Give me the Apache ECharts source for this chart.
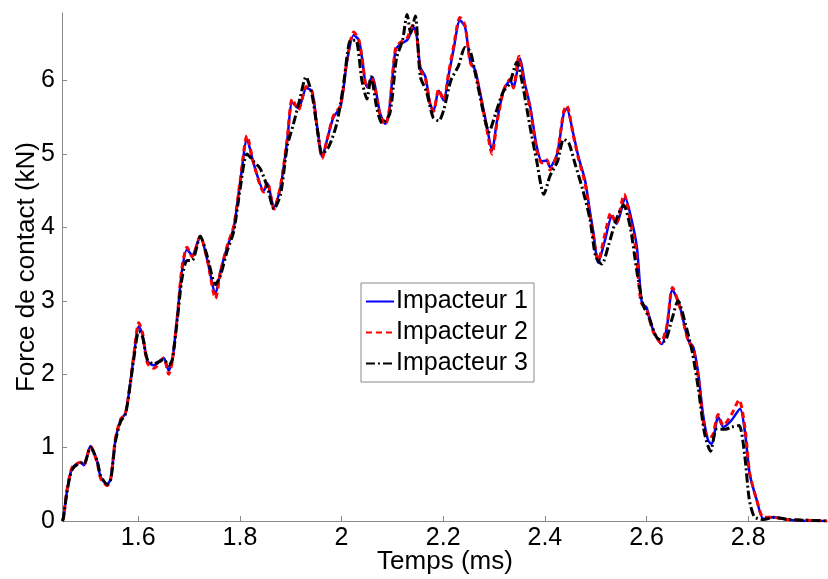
<!DOCTYPE html>
<html>
<head>
<meta charset="utf-8">
<script src="https://cdn.jsdelivr.net/npm/echarts@6/dist/echarts.min.js"></script>
<style>
html,body{margin:0;padding:0;background:#fff;}
#chart{width:828px;height:579px;}
</style>
</head>
<body>
<div id="chart"></div>
<script>
// Force de contact (kN) vs Temps (ms)
var seriesNames = ['Impacteur 1', 'Impacteur 2', 'Impacteur 3'];
var xTicks = [1.6, 1.8, 2.0, 2.2, 2.4, 2.6, 2.8];
var yTicks = [0, 1, 2, 3, 4, 5, 6];
var xMin = 1.45, xMax = 2.957, yMin = 0, yMax = 6.92;

var impacteur1 = [
[1.451,0],[1.453,0.05],[1.460,0.42],[1.470,0.72],[1.487,0.80],[1.493,0.76],[1.506,1.02],[1.519,0.82],[1.526,0.60],[1.539,0.50],
[1.546,0.58],[1.555,1.10],[1.565,1.37],[1.575,1.47],[1.585,1.91],[1.591,2.23],[1.601,2.65],[1.608,2.55],[1.618,2.18],[1.631,2.12],
[1.650,2.22],[1.660,2.05],[1.667,2.19],[1.677,2.80],[1.686,3.41],[1.696,3.70],[1.706,3.62],[1.722,3.88],[1.736,3.55],[1.752,3.10],
[1.762,3.41],[1.775,3.73],[1.788,4.00],[1.801,4.64],[1.814,5.20],[1.827,4.87],[1.847,4.50],[1.854,4.60],[1.867,4.27],[1.880,4.55],
[1.893,5.18],[1.903,5.70],[1.915,5.62],[1.931,5.90],[1.942,5.85],[1.952,5.37],[1.962,4.96],[1.971,5.18],[1.984,5.50],[1.998,5.64],
[2.011,6.27],[2.024,6.62],[2.034,6.55],[2.040,6.32],[2.050,5.91],[2.060,6.05],[2.076,5.55],[2.086,5.41],[2.093,5.55],[2.106,6.41],
[2.116,6.50],[2.129,6.55],[2.142,6.72],[2.148,6.60],[2.155,6.18],[2.165,6.05],[2.174,5.69],[2.181,5.59],[2.191,5.86],[2.201,5.73],
[2.210,6.05],[2.220,6.41],[2.233,6.82],[2.243,6.73],[2.253,6.27],[2.263,6.14],[2.273,5.82],[2.286,5.37],[2.296,5.05],[2.306,5.46],
[2.319,5.87],[2.332,6.00],[2.338,5.91],[2.351,6.30],[2.361,5.95],[2.371,5.65],[2.384,5.10],[2.394,4.90],[2.404,4.91],[2.410,4.82],
[2.424,5.00],[2.437,5.55],[2.443,5.62],[2.456,5.27],[2.466,4.96],[2.479,4.64],[2.489,4.20],[2.495,3.95],[2.505,3.52],[2.518,3.82],
[2.532,4.15],[2.541,4.05],[2.558,4.40],[2.571,4.09],[2.581,3.73],[2.591,2.96],[2.600,2.91],[2.613,2.60],[2.630,2.41],[2.640,2.64],
[2.651,3.15],[2.666,2.91],[2.682,2.46],[2.692,2.37],[2.702,2.00],[2.711,1.46],[2.721,1.10],[2.728,1.05],[2.741,1.42],[2.751,1.28],
[2.767,1.37],[2.784,1.53],[2.794,1.19],[2.803,0.64],[2.817,0.28],[2.830,0.03],[2.849,0.05],[2.876,0.02],[2.915,0.00],[2.955,0.00]
];

var impacteur2 = [
[1.451,0],[1.453,0.05],[1.460,0.43],[1.470,0.73],[1.487,0.80],[1.493,0.76],[1.506,1.02],[1.519,0.80],[1.526,0.58],[1.539,0.48],
[1.546,0.58],[1.555,1.12],[1.565,1.38],[1.575,1.47],[1.585,1.92],[1.591,2.25],[1.601,2.70],[1.608,2.58],[1.618,2.15],[1.631,2.08],
[1.650,2.22],[1.660,2.00],[1.667,2.18],[1.677,2.80],[1.686,3.45],[1.696,3.73],[1.706,3.60],[1.722,3.88],[1.736,3.55],[1.752,3.03],
[1.762,3.40],[1.775,3.75],[1.788,4.02],[1.801,4.66],[1.814,5.25],[1.827,4.87],[1.847,4.48],[1.854,4.62],[1.867,4.25],[1.880,4.57],
[1.893,5.20],[1.903,5.75],[1.915,5.60],[1.931,5.92],[1.942,5.85],[1.952,5.35],[1.962,4.94],[1.971,5.18],[1.984,5.52],[1.998,5.66],
[2.011,6.30],[2.024,6.66],[2.034,6.55],[2.040,6.32],[2.050,5.90],[2.060,6.02],[2.076,5.52],[2.086,5.40],[2.093,5.55],[2.106,6.43],
[2.116,6.52],[2.129,6.58],[2.140,6.75],[2.148,6.60],[2.155,6.15],[2.165,6.02],[2.174,5.68],[2.181,5.58],[2.191,5.88],[2.201,5.73],
[2.210,6.08],[2.220,6.45],[2.233,6.86],[2.243,6.75],[2.253,6.25],[2.263,6.12],[2.273,5.80],[2.286,5.33],[2.296,5.00],[2.306,5.44],
[2.319,5.87],[2.332,6.02],[2.338,5.90],[2.349,6.33],[2.359,5.98],[2.371,5.62],[2.384,5.05],[2.394,4.88],[2.404,4.92],[2.410,4.78],
[2.424,5.00],[2.437,5.58],[2.443,5.66],[2.456,5.25],[2.466,4.94],[2.479,4.60],[2.489,4.15],[2.495,3.90],[2.505,3.55],[2.518,3.90],
[2.530,4.20],[2.540,4.05],[2.556,4.45],[2.569,4.05],[2.579,3.70],[2.589,2.98],[2.600,2.88],[2.613,2.58],[2.628,2.43],[2.640,2.66],
[2.651,3.18],[2.666,2.90],[2.682,2.45],[2.692,2.35],[2.702,1.95],[2.711,1.40],[2.719,1.15],[2.728,1.15],[2.741,1.45],[2.751,1.30],
[2.767,1.45],[2.782,1.65],[2.794,1.25],[2.803,0.65],[2.817,0.28],[2.830,0.05],[2.849,0.05],[2.876,0.02],[2.915,0.01],[2.955,0.00]
];

var impacteur3 = [
[1.451,0],[1.453,0.05],[1.460,0.40],[1.470,0.70],[1.487,0.79],[1.493,0.77],[1.506,1.00],[1.519,0.82],[1.526,0.62],[1.539,0.50],
[1.546,0.57],[1.555,1.08],[1.565,1.35],[1.575,1.46],[1.585,1.90],[1.591,2.20],[1.601,2.58],[1.608,2.52],[1.618,2.20],[1.631,2.14],
[1.650,2.20],[1.660,2.12],[1.667,2.20],[1.677,2.75],[1.686,3.30],[1.696,3.55],[1.706,3.55],[1.722,3.88],[1.736,3.60],[1.752,3.22],
[1.762,3.35],[1.775,3.68],[1.788,3.95],[1.801,4.55],[1.814,5.00],[1.827,4.90],[1.840,4.80],[1.854,4.55],[1.867,4.25],[1.880,4.45],
[1.893,5.10],[1.905,5.40],[1.918,5.75],[1.930,6.05],[1.942,5.80],[1.952,5.35],[1.962,5.00],[1.975,5.10],[1.990,5.40],[2.003,5.90],
[2.018,6.55],[2.028,6.55],[2.040,6.00],[2.050,5.75],[2.058,6.05],[2.070,5.60],[2.080,5.42],[2.095,5.55],[2.108,6.30],[2.120,6.55],
[2.129,6.90],[2.136,6.65],[2.145,6.88],[2.155,6.05],[2.167,5.85],[2.180,5.50],[2.191,5.45],[2.201,5.60],[2.215,6.00],[2.230,6.20],
[2.243,6.45],[2.253,6.40],[2.263,6.10],[2.278,5.60],[2.290,5.30],[2.303,5.55],[2.318,5.85],[2.330,5.95],[2.345,6.25],[2.356,5.95],
[2.370,5.40],[2.384,4.90],[2.398,4.45],[2.410,4.70],[2.425,4.90],[2.437,5.20],[2.447,5.15],[2.460,4.85],[2.475,4.50],[2.489,4.10],
[2.500,3.60],[2.512,3.50],[2.525,3.75],[2.540,4.10],[2.555,4.30],[2.568,4.00],[2.581,3.40],[2.593,2.95],[2.606,2.75],[2.620,2.50],
[2.635,2.45],[2.650,2.75],[2.662,3.00],[2.676,2.70],[2.690,2.30],[2.702,1.80],[2.714,1.20],[2.726,0.95],[2.738,1.25],[2.755,1.25],
[2.768,1.28],[2.782,1.30],[2.793,0.90],[2.802,0.30],[2.812,0.06],[2.830,0.02],[2.850,0.05],[2.880,0.02],[2.915,0.01],[2.955,0.00]
];

var FONT = '"Liberation Sans", Arial, sans-serif';
var AXIS_COLOR = '#8a8a8a';

var chart = echarts.init(document.getElementById('chart'), null, {renderer: 'canvas'});
chart.setOption({
  animation: false,
  backgroundColor: '#ffffff',
  textStyle: {fontFamily: FONT, color: '#000'},
  grid: {left: 62, right: 0, top: 13, bottom: 58, containLabel: false, outerBoundsMode: 'none'},
  legend: {
    left: 361, top: 283,
    orient: 'vertical',
    data: seriesNames,
    backgroundColor: '#ffffff',
    borderColor: '#8a8a8a', borderWidth: 1, borderRadius: 0,
    padding: [6, 6, 6, 4],
    itemWidth: 28, itemHeight: 14, itemGap: 6,
    itemStyle: {color: 'rgba(0,0,0,0)', borderColor: 'rgba(0,0,0,0)', borderWidth: 0, opacity: 0},
    textStyle: {fontFamily: FONT, fontSize: 25, color: '#000', lineHeight: 25, padding: [0, 0, 0, -3]}
  },
  xAxis: {
    type: 'value', min: xMin, max: xMax,
    name: 'Temps (ms)', nameLocation: 'middle', nameGap: 28, nameMoveOverlap: false,
    nameTextStyle: {fontFamily: FONT, fontSize: 26, color: '#000'},
    axisLine: {onZero: false, lineStyle: {color: AXIS_COLOR, width: 1}},
    axisTick: {inside: true, length: 5, lineStyle: {color: AXIS_COLOR}, customValues: xTicks},
    axisLabel: {fontFamily: FONT, fontSize: 25, color: '#000', margin: 5, customValues: xTicks,
      formatter: function (v) { return String(Math.round(v * 10) / 10); }},
    splitLine: {show: false}
  },
  yAxis: {
    type: 'value', min: yMin, max: yMax,
    name: 'Force de contact (kN)', nameLocation: 'middle', nameGap: 22, nameMoveOverlap: false,
    nameTextStyle: {fontFamily: FONT, fontSize: 26, color: '#000'},
    axisLine: {show: true, onZero: false, lineStyle: {color: AXIS_COLOR, width: 1}},
    axisTick: {show: true, inside: true, length: 5, lineStyle: {color: AXIS_COLOR}, customValues: yTicks},
    axisLabel: {fontFamily: FONT, fontSize: 25, color: '#000', margin: 7, customValues: yTicks},
    splitLine: {show: false}
  },
  series: [
    {name: seriesNames[0], type: 'line', data: impacteur1, symbol: 'none', smooth: 0.25,
     lineStyle: {color: '#0000ff', width: 2.5, type: 'solid'}, itemStyle: {color: '#0000ff'}},
    {name: seriesNames[1], type: 'line', data: impacteur2, symbol: 'none', smooth: 0.25,
     lineStyle: {color: '#ff0000', width: 3, type: [6, 4]}, itemStyle: {color: '#ff0000'}},
    {name: seriesNames[2], type: 'line', data: impacteur3, symbol: 'none', smooth: 0.25,
     lineStyle: {color: '#000000', width: 3, type: [9, 3, 2, 3]}, itemStyle: {color: '#000000'}}
  ]
});
</script>
</body>
</html>
